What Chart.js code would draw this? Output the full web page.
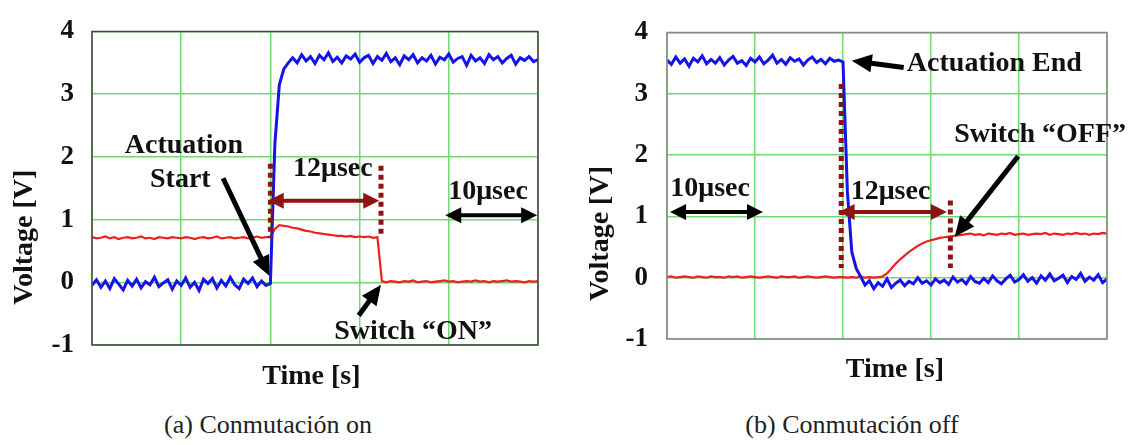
<!DOCTYPE html>
<html>
<head>
<meta charset="utf-8">
<script src="https://cdn.jsdelivr.net/npm/chart.js@4.4.1/dist/chart.umd.min.js"></script>
<style>
  html, body { margin: 0; padding: 0; background: #fff; }
  body { width: 1135px; height: 445px; position: relative; overflow: hidden; }
  canvas { position: absolute; top: 0; }
  #onChart { left: 0; }
  #offChart { left: 570px; }
  .caption {
    position: absolute; top: 409px; transform: translateX(-50%); white-space: nowrap;
    font-family: "Liberation Serif", serif; font-size: 26px; line-height: 32px; color: #222;
  }
</style>
</head>
<body>
<canvas id="onChart" width="565" height="395"></canvas>
<canvas id="offChart" width="565" height="395"></canvas>
<div class="caption" style="left:268px">(a) Conmutación on</div>
<div class="caption" style="left:852px">(b) Conmutación off</div>
<script>
// ---------------- DATA (time in µs, voltage in V) ----------------
const timeUs = [
  0, 0.5, 1, 1.5, 2, 2.5, 3, 3.5, 4, 4.5,
  5, 5.5, 6, 6.5, 7, 7.5, 8, 8.5, 9, 9.5,
  10, 10.5, 11, 11.5, 12, 12.5, 13, 13.5, 14, 14.5,
  15, 15.5, 16, 16.5, 17, 17.5, 18, 18.5, 19, 19.5,
  20, 20.5, 21, 21.5, 22, 22.5, 23, 23.5, 24, 24.5,
  25, 25.5, 26, 26.5, 27, 27.5, 28, 28.5, 29, 29.5,
  30, 30.5, 31, 31.5, 32, 32.5, 33, 33.5, 34, 34.5,
  35, 35.5, 36, 36.5, 37, 37.5, 38, 38.5, 39, 39.5,
  40, 40.5, 41, 41.5, 42, 42.5, 43, 43.5, 44, 44.5,
  45, 45.5, 46, 46.5, 47, 47.5, 48, 48.5, 49, 49.5,
  50
];
const timeGrid = [0, 10, 20, 30, 40, 50];
const voltTicks = [-1, 0, 1, 2, 3, 4];

// (a) switching on: actuation voltage (blue) and switch signal (red)
const onBlue = [
  -0.05, 0.04, -0.08, 0.02, -0.1, 0.06, -0.03, -0.12, 0.03, -0.06,
  0.05, -0.09, 0.01, -0.04, 0.08, -0.07, -0.01, 0.04, -0.11, 0.02,
  -0.05, 0.07, -0.08, 0.0, -0.13, 0.05, -0.02, 0.06, -0.09, 0.03,
  -0.06, 0.08, -0.04, -0.1, 0.05, -0.02, 0.07, -0.07, 0.02, -0.05,
  -0.02, 2.2, 3.15, 3.4, 3.5,
  3.58, 3.5, 3.63, 3.53, 3.6, 3.49, 3.62, 3.55, 3.66, 3.52,
  3.59, 3.5, 3.61, 3.56, 3.64, 3.51, 3.58, 3.62, 3.49, 3.6,
  3.54, 3.65, 3.52, 3.58, 3.47, 3.61, 3.55, 3.63, 3.5, 3.58,
  3.53, 3.62, 3.48, 3.59, 3.55, 3.64, 3.51, 3.57, 3.6, 3.46,
  3.62, 3.53, 3.58, 3.49, 3.63, 3.55, 3.6, 3.5, 3.57, 3.62,
  3.48, 3.58, 3.54, 3.6, 3.52, 3.55
];
const onRed = [
  0.72, 0.7, 0.71, 0.73, 0.7, 0.72, 0.69, 0.71, 0.72, 0.7,
  0.71, 0.73, 0.7, 0.71, 0.69, 0.72, 0.71, 0.7, 0.72, 0.71,
  0.7, 0.72, 0.71, 0.69, 0.71, 0.72, 0.7, 0.71, 0.73, 0.7,
  0.71, 0.72, 0.7, 0.71, 0.72, 0.7, 0.71, 0.73, 0.71, 0.72,
  0.72, 0.85, 0.91, 0.9, 0.89, 0.87, 0.86, 0.84, 0.82, 0.81,
  0.79, 0.78, 0.77, 0.76, 0.75, 0.74, 0.74, 0.73, 0.74, 0.72,
  0.73, 0.72, 0.73, 0.71, 0.72, 0.02,
  0.0, 0.02, 0.01, 0.0, 0.02, 0.01, 0.03, 0.0, 0.01, 0.02,
  0.0, 0.01, 0.02, 0.03, 0.01, 0.02, 0.0, 0.01, 0.02, 0.01,
  0.03, 0.01, 0.02, 0.0, 0.02, 0.01, 0.02, 0.03, 0.01, 0.02,
  0.01, 0.0, 0.02, 0.01, 0.02
];

// (b) switching off
const offBlue = [
  3.55, 3.48, 3.6, 3.5, 3.57, 3.45, 3.58, 3.52, 3.62, 3.49,
  3.56, 3.5, 3.59, 3.47, 3.55, 3.61, 3.5, 3.54, 3.46, 3.58,
  3.52, 3.6, 3.49, 3.55, 3.63, 3.5, 3.56, 3.48, 3.59, 3.53,
  3.57, 3.47, 3.55, 3.6, 3.51, 3.56, 3.49, 3.58, 3.53, 3.55,
  3.52, 1.4, 0.42, 0.15, 0.02,
  -0.12, -0.05, -0.18, -0.08, -0.14, -0.02, -0.16, -0.09, -0.04, -0.13,
  -0.06, -0.1, 0.0, -0.09, -0.05, -0.12, -0.02, -0.08, -0.04, -0.11,
  0.01, -0.07, -0.03, -0.1, 0.02, -0.06, -0.09, -0.01, -0.08, 0.03,
  -0.05, -0.1, -0.02, 0.04, -0.07, -0.03, 0.05, -0.06, 0.0, -0.09,
  0.03, -0.04, 0.06, -0.05, -0.01, 0.04, -0.08, 0.02, -0.03, 0.07,
  -0.06, 0.01, -0.04, 0.05, -0.08, -0.02
];
const offRed = [
  0.01, 0.02, 0.0, 0.01, 0.02, 0.01, 0.0, 0.02, 0.01, 0.0,
  0.02, 0.01, 0.01, 0.0, 0.02, 0.01, 0.02, 0.0, 0.01, 0.02,
  0.01, 0.0, 0.01, 0.02, 0.01, 0.0, 0.02, 0.01, 0.01, 0.02,
  0.0, 0.01, 0.02, 0.01, 0.0, 0.01, 0.02, 0.01, 0.0, 0.01,
  0.01, 0.0, 0.01, 0.0, 0.02, 0.0, 0.01, 0.0, 0.01,
  0.02, 0.07, 0.15, 0.23, 0.3, 0.36, 0.42, 0.47, 0.52, 0.56,
  0.59, 0.61, 0.63, 0.65, 0.66, 0.67, 0.68, 0.69,
  0.7, 0.71, 0.72, 0.7, 0.71, 0.69, 0.72, 0.71, 0.7, 0.72,
  0.71, 0.73, 0.7, 0.71, 0.72, 0.7, 0.71, 0.72, 0.71, 0.73,
  0.7, 0.72, 0.71, 0.7, 0.72, 0.71, 0.73, 0.71, 0.72, 0.7,
  0.72, 0.71, 0.73, 0.72
];

// ---------------- ANNOTATIONS (placed in data units) ----------------
const onLabels = [
  { text: 'Actuation', t: 10.3, v: 2.18 },
  { text: 'Start', t: 9.9, v: 1.63 },
  { text: '12μsec', t: 27.0, v: 1.81 },
  { text: '10μsec', t: 44.4, v: 1.45 },
  { text: 'Switch “ON”', t: 36.0, v: -0.79 },
];
const onMarkers = [
  { t: 20.0, from: 1.89, to: 0.71 },
  { t: 32.4, from: 1.86, to: 0.74 },
];
const onArrows = [
  { from: [14.7, 1.66], to: [19.9, 0.1], kind: 'black' },
  { from: [29.9, -0.53], to: [32.4, -0.04], kind: 'black' },
  { from: [19.7, 1.3], to: [32.2, 1.3], kind: 'span' },
  { from: [39.6, 1.07], to: [49.9, 1.07], kind: 'scale' },
];

const offLabels = [
  { text: 'Actuation End', t: 37.2, v: 3.49 },
  { text: 'Switch “OFF”', t: 42.4, v: 2.33 },
  { text: '10μsec', t: 4.9, v: 1.45 },
  { text: '12μsec', t: 25.4, v: 1.4 },
];
const offMarkers = [
  { t: 19.8, from: 3.16, to: 0.16 },
  { t: 32.2, from: 1.26, to: 0.16 },
];
const offArrows = [
  { from: [26.9, 3.43], to: [21.0, 3.54], kind: 'black' },
  { from: [39.9, 1.98], to: [32.7, 0.67], kind: 'black' },
  { from: [19.5, 1.07], to: [31.8, 1.07], kind: 'span' },
  { from: [0.35, 1.07], to: [10.9, 1.07], kind: 'scale' },
];

// ---------------- STYLE ----------------
const BLUE = '#1414e8';
const RED = '#f01e1e';
const DARK_RED = '#8e1414';
const GRID = 'rgb(112, 216, 112)';
const SERIF = '"Liberation Serif", "Times New Roman", serif';

const arrowStyles = {
  black: { color: '#000', width: 5, head: 20, half: 9, both: false },
  span: { color: DARK_RED, width: 4, head: 16, half: 8, both: true },
  scale: { color: '#000', width: 4, head: 16, half: 8, both: true },
};

function arrowHead(ctx, x, y, ang, st) {
  ctx.beginPath();
  ctx.moveTo(x, y);
  ctx.lineTo(x - st.head * Math.cos(ang) + st.half * Math.sin(ang), y - st.head * Math.sin(ang) - st.half * Math.cos(ang));
  ctx.lineTo(x - st.head * Math.cos(ang) - st.half * Math.sin(ang), y - st.head * Math.sin(ang) + st.half * Math.cos(ang));
  ctx.closePath();
  ctx.fill();
}

function drawArrow(ctx, x1, y1, x2, y2, st) {
  const ang = Math.atan2(y2 - y1, x2 - x1);
  const cut = st.head * 0.7;
  ctx.strokeStyle = st.color;
  ctx.fillStyle = st.color;
  ctx.lineWidth = st.width;
  ctx.beginPath();
  ctx.moveTo(st.both ? x1 + cut * Math.cos(ang) : x1, st.both ? y1 + cut * Math.sin(ang) : y1);
  ctx.lineTo(x2 - cut * Math.cos(ang), y2 - cut * Math.sin(ang));
  ctx.stroke();
  arrowHead(ctx, x2, y2, ang, st);
  if (st.both) arrowHead(ctx, x1, y1, ang + Math.PI, st);
}

// draws frame, markers, arrows, labels and axis titles
function makeNotes(cfg) {
  return {
    id: 'notes',
    afterDraw(chart) {
      const { ctx, chartArea: a, scales: { x, y } } = chart;
      const px = t => x.getPixelForValue(t);
      const py = v => y.getPixelForValue(v);
      ctx.save();

      ctx.strokeStyle = cfg.frame;
      ctx.lineWidth = 1.5;
      ctx.strokeRect(a.left, a.top, a.right - a.left, a.bottom - a.top);

      ctx.strokeStyle = DARK_RED;
      ctx.lineWidth = 5;
      ctx.setLineDash([5, 4]);
      cfg.markers.forEach(m => {
        ctx.beginPath();
        ctx.moveTo(px(m.t), py(m.from));
        ctx.lineTo(px(m.t), py(m.to));
        ctx.stroke();
      });
      ctx.setLineDash([]);

      cfg.arrows.forEach(ar => drawArrow(ctx, px(ar.from[0]), py(ar.from[1]), px(ar.to[0]), py(ar.to[1]), arrowStyles[ar.kind]));

      ctx.fillStyle = '#111';
      ctx.font = 'bold 28px ' + SERIF;
      ctx.textAlign = 'center';
      ctx.textBaseline = 'middle';
      cfg.labels.forEach(l => ctx.fillText(l.text, px(l.t), py(l.v)));

      // axis titles
      ctx.fillText('Time [s]', px(cfg.xTitle.t), a.bottom + cfg.xTitle.gap);
      ctx.translate(a.left - cfg.yTitle.gap, py(cfg.yTitle.v));
      ctx.rotate(-Math.PI / 2);
      ctx.fillText('Voltage [V]', 0, 0);
      ctx.restore();
    }
  };
}

function buildChart(id, blue, red, cfg) {
  const toPoints = vals => timeUs.map((t, i) => ({ x: t, y: vals[i] }));
  return new Chart(document.getElementById(id), {
    type: 'line',
    data: {
      datasets: [
        { data: toPoints(blue), borderColor: BLUE, borderWidth: 3, pointRadius: 0, tension: 0 },
        { data: toPoints(red), borderColor: RED, borderWidth: 2.2, pointRadius: 0, tension: 0 },
      ]
    },
    options: {
      responsive: false,
      animation: false,
      devicePixelRatio: 1,
      layout: { padding: { left: 0, top: cfg.top, right: cfg.right, bottom: 0 } },
      plugins: { legend: { display: false }, tooltip: { enabled: false } },
      scales: {
        x: {
          type: 'linear', min: 0, max: 50,
          afterBuildTicks: s => { s.ticks = timeGrid.map(v => ({ value: v })); },
          afterFit: s => { s.height = cfg.xAxis; },
          ticks: { display: false },
          grid: { color: GRID, lineWidth: 1.5, drawTicks: false },
          border: { display: false },
        },
        y: {
          min: -1, max: 4,
          afterBuildTicks: s => { s.ticks = voltTicks.map(v => ({ value: v })); },
          afterFit: s => { s.width = cfg.yAxis; },
          ticks: { font: { family: SERIF, size: 27, weight: 'bold', lineHeight: 1 }, color: '#111', padding: cfg.tickPad },
          grid: { color: GRID, lineWidth: 1.5, drawTicks: false },
          border: { display: false },
        }
      }
    },
    plugins: [makeNotes(cfg)]
  });
}

buildChart('onChart', onBlue, onRed, {
  top: 14, right: 27, xAxis: 50, yAxis: 92, tickPad: 18, frame: '#444',
  labels: onLabels, markers: onMarkers, arrows: onArrows,
  xTitle: { t: 24.6, gap: 32 }, yTitle: { v: 0.72, gap: 67 },
});
buildChart('offChart', offBlue, offRed, {
  top: 13, right: 28, xAxis: 56, yAxis: 97, tickPad: 19, frame: '#888',
  labels: offLabels, markers: offMarkers, arrows: offArrows,
  xTitle: { t: 25.9, gap: 31 }, yTitle: { v: 0.72, gap: 66 },
});
</script>
</body>
</html>
